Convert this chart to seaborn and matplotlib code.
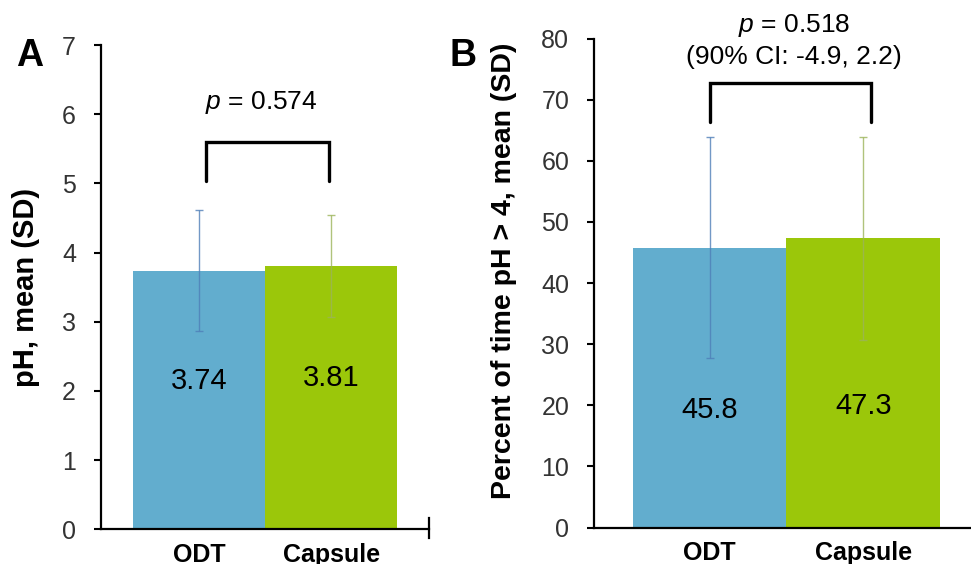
import matplotlib
matplotlib.use("Agg")
import matplotlib.pyplot as plt
import seaborn as sns
import numpy as np

# data
groups = ["ODT", "Capsule"]
ph_mean = [3.74, 3.81]
ph_sd = [0.88, 0.74]
pct_mean = [45.8, 47.3]
pct_sd = [18.1, 16.6]

bar_colors = ["#62ADCE", "#9BC70A"]
err_colors = ["#4F7FB8", "#9CB45A"]

sns.set_style("white")
plt.rcParams["font.family"] = ["Liberation Sans", "DejaVu Sans"]
plt.rcParams["mathtext.fontset"] = "custom"
plt.rcParams["mathtext.rm"] = "Liberation Sans"
plt.rcParams["mathtext.it"] = "Liberation Sans:italic"
plt.rcParams["text.color"] = "black"
plt.rcParams["axes.labelcolor"] = "black"

TICK_COLOR = "#333333"


def draw_panel(ax, means, sds, ymax, ystep, xlim, label_frac, end_tick):
    sns.barplot(x=groups, y=means, hue=groups, palette=bar_colors, width=1,
                saturation=1, errorbar=None, legend=False, linewidth=0, ax=ax)
    for i in range(len(groups)):
        ax.errorbar(i, means[i], yerr=sds[i], fmt="none", ecolor=err_colors[i],
                    elinewidth=1, capsize=3, capthick=1, alpha=0.8, zorder=3)
        ax.text(i, means[i] * label_frac, f"{means[i]}", ha="center", va="center",
                fontsize=21, color="black")

    ax.set_xlim(*xlim)
    ax.set_ylim(0, ymax)
    ax.set_yticks(np.arange(0, ymax + ystep / 2, ystep))
    ax.set_xticks([0, 1])
    ax.set_xticklabels(groups, fontsize=18, fontweight="bold", color="black")
    ax.set_xticks([0.5], minor=True)
    ax.tick_params(axis="x", which="major", length=0, pad=10)
    ax.tick_params(axis="x", which="minor", direction="out", length=6, width=1.5,
                   color="black")
    ax.tick_params(axis="y", direction="out", length=5, width=1.5, color="black",
                   labelsize=18, labelcolor=TICK_COLOR, pad=13, left=True)

    for s in ["left", "bottom"]:
        ax.spines[s].set_color("black")
        ax.spines[s].set_linewidth(1.6)
    ax.spines["top"].set_visible(False)
    if end_tick:
        # small tick at the right end of the category axis
        ax.spines["right"].set_bounds(-end_tick[0], end_tick[1])
        ax.spines["right"].set_color("black")
        ax.spines["right"].set_linewidth(1.6)
    else:
        ax.spines["right"].set_visible(False)
    ax.set_xlabel("")


fig = plt.figure(figsize=(9.71, 5.64), dpi=100)

# panel A
axA = fig.add_axes([0.104, 0.0615, 0.338, 0.8586])
draw_panel(axA, ph_mean, ph_sd, 7, 1, (-0.74, 1.74), 0.573, (0.12, 0.16))
axA.set_ylabel("pH, mean (SD)", fontsize=21, fontweight="bold")
axA.yaxis.set_label_coords(-0.185, 0.5)
axA.plot([0.05, 0.05, 0.98, 0.98], [5.03, 5.6, 5.6, 5.03], color="black", lw=2.4,
         solid_joinstyle="miter")
axA.text(0.47, 6.17, "$p$ = 0.574", ha="center", va="center", fontsize=19)

# panel B
axB = fig.add_axes([0.612, 0.0647, 0.388, 0.867])
draw_panel(axB, pct_mean, pct_sd, 80, 10, (-0.75, 1.70), 0.419, None)
axB.set_ylabel("Percent of time pH > 4, mean (SD)", fontsize=20.5, fontweight="bold")
axB.yaxis.set_label_coords(-0.204, 0.524)
axB.plot([0.0, 0.0, 1.05, 1.05], [66.4, 72.8, 72.8, 66.4], color="black", lw=2.4,
         solid_joinstyle="miter")
axB.text(0.55, 82.2, "$p$ = 0.518", ha="center", va="center", fontsize=19,
         clip_on=False)
axB.text(0.55, 76.9, "(90% CI: -4.9, 2.2)", ha="center", va="center", fontsize=19,
         clip_on=False)

fig.text(0.031, 0.9, "A", fontsize=27, fontweight="bold", ha="center", va="center")
fig.text(0.477, 0.9, "B", fontsize=27, fontweight="bold", ha="center", va="center")

fig.savefig("out.png", dpi=100)
